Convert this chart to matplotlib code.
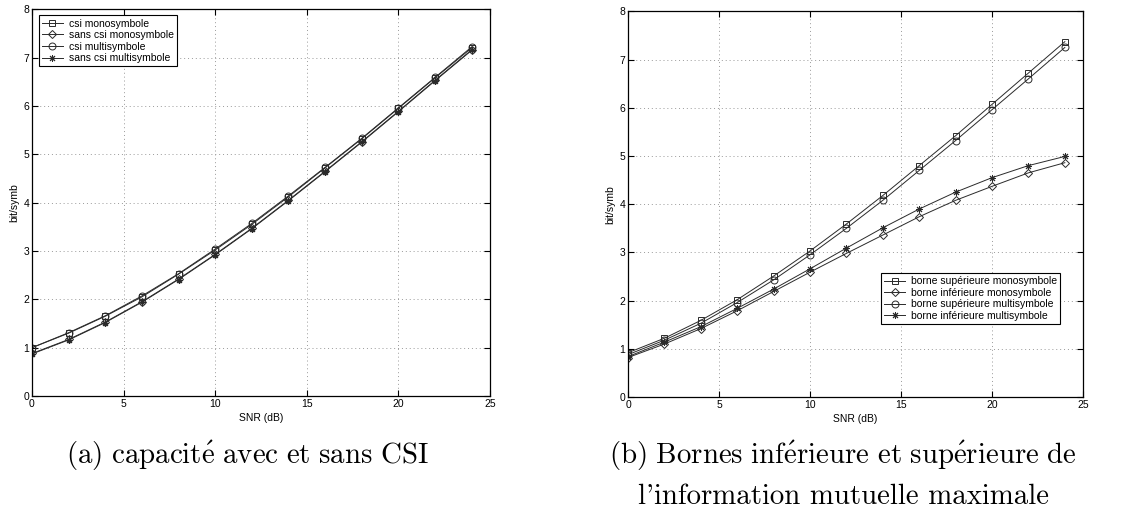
import matplotlib
matplotlib.use("Agg")
import matplotlib.pyplot as plt

plt.rcParams["font.family"] = ["Liberation Sans", "DejaVu Sans"]
plt.rcParams["mathtext.fontset"] = "cm"

snr = [0, 2, 4, 6, 8, 10, 12, 14, 16, 18, 20, 22, 24]

# (a) capacite avec et sans CSI
csi_mono = [1.00, 1.30, 1.65, 2.05, 2.52, 3.02, 3.55, 4.12, 4.72, 5.32, 5.95, 6.58, 7.20]
sans_csi_mono = [0.88, 1.17, 1.53, 1.95, 2.42, 2.93, 3.47, 4.05, 4.65, 5.26, 5.89, 6.53, 7.16]
csi_multi = [1.00, 1.31, 1.66, 2.07, 2.53, 3.04, 3.57, 4.14, 4.73, 5.33, 5.96, 6.59, 7.22]
sans_csi_multi = [0.87, 1.16, 1.52, 1.94, 2.41, 2.92, 3.46, 4.04, 4.64, 5.25, 5.88, 6.52, 7.15]
labels_a = ["csi monosymbole", "sans csi monosymbole", "csi multisymbole", "sans csi multisymbole"]

# (b) bornes inferieure / superieure
sup_mono = [0.92, 1.22, 1.59, 2.02, 2.51, 3.03, 3.59, 4.18, 4.80, 5.42, 6.07, 6.72, 7.37]
inf_mono = [0.82, 1.10, 1.42, 1.79, 2.19, 2.59, 2.98, 3.36, 3.74, 4.08, 4.37, 4.65, 4.86]
sup_multi = [0.88, 1.18, 1.53, 1.96, 2.43, 2.95, 3.50, 4.08, 4.70, 5.32, 5.96, 6.60, 7.25]
inf_multi = [0.84, 1.14, 1.46, 1.84, 2.24, 2.66, 3.09, 3.51, 3.90, 4.25, 4.55, 4.80, 4.99]
labels_b = ["borne supérieure monosymbole", "borne inférieure monosymbole",
            "borne supérieure multisymbole", "borne inférieure multisymbole"]

markers = ["s", "D", "o", (8, 2, 0)]
msizes = [4.5, 4.3, 5, 5]
col = "#2a2a2a"

fig = plt.figure(figsize=(11.29, 5.13), dpi=100)
ax1 = fig.add_axes([0.0283, 0.228, 0.4057, 0.754])
ax2 = fig.add_axes([0.5563, 0.226, 0.4030, 0.752])


def draw(ax, series, labels, anchor):
    for ys, lab, m, ms in zip(series, labels, markers, msizes):
        ax.plot(snr, ys, color=col, lw=0.7, marker=m, ms=ms,
                mfc="none", mec=col, mew=0.7, label=lab)
    ax.set_xlim(0, 25)
    ax.set_ylim(0, 8)
    ax.set_xticks([0, 5, 10, 15, 20, 25])
    ax.set_yticks(range(0, 9))
    ax.grid(True, ls=(0, (1, 3)), color="#999999", lw=0.7)
    ax.tick_params(direction="in", top=True, right=True, labelsize=7.5, length=4, pad=2)
    for s in ax.spines.values():
        s.set_linewidth(0.9)
    ax.set_xlabel("SNR (dB)", fontsize=7.5, labelpad=3)
    ax.set_ylabel("bit/symb", fontsize=7.5, labelpad=3)
    leg = ax.legend(loc="upper left", bbox_to_anchor=anchor, fontsize=7.5, handlelength=2.0,
                    fancybox=False, edgecolor="black", framealpha=1, borderpad=0.3,
                    labelspacing=0.15, handletextpad=0.6, borderaxespad=0)
    leg.get_frame().set_linewidth(0.8)


draw(ax1, [csi_mono, sans_csi_mono, csi_multi, sans_csi_multi], labels_a, (0.015, 0.984))
draw(ax2, [sup_mono, inf_mono, sup_multi, inf_multi], labels_b, (0.556, 0.321))

cap = dict(fontsize=20.8, ha="center", va="center")
fig.text(247 / 1129, 1 - 456 / 513,
         r"$\mathrm{(a)\ capacit\acute{e}\ avec\ et\ sans\ CSI}$", **cap)
fig.text(843 / 1129, 1 - 456 / 513,
         r"$\mathrm{(b)\ Bornes\ inf\acute{e}rieure\ et\ sup\acute{e}rieure\ de}$", **cap)
fig.text(843 / 1129, 1 - 497 / 513, "l'information mutuelle maximale",
         family=["cmr10", "DejaVu Serif"], **cap)

fig.savefig("out.png", dpi=100)
